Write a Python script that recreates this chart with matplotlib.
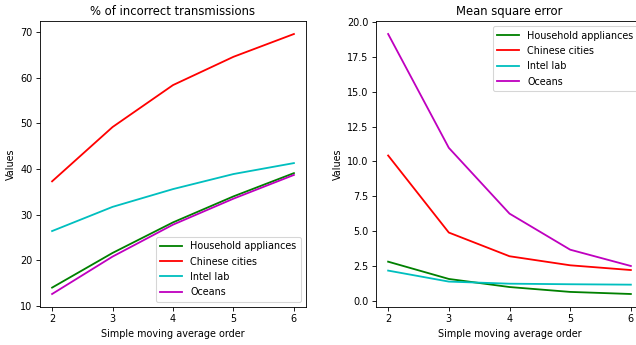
import matplotlib
matplotlib.use("Agg")
import matplotlib.pyplot as plt

# x axis: simple moving average order
orders = [2, 3, 4, 5, 6]
series_names = ['Household appliances', 'Chinese cities', 'Intel lab', 'Oceans']
series_colors = ['g', 'r', 'c', 'm']

# % of incorrect transmissions
pct_household = [14.0, 21.6, 28.3, 34.0, 39.1]
pct_chinese = [37.3, 49.2, 58.4, 64.6, 69.6]
pct_intel = [26.4, 31.7, 35.6, 38.9, 41.3]
pct_oceans = [12.6, 20.8, 27.8, 33.5, 38.7]

# mean square error
mse_household = [2.80, 1.56, 0.98, 0.63, 0.48]
mse_chinese = [10.42, 4.89, 3.19, 2.54, 2.20]
mse_intel = [2.16, 1.37, 1.22, 1.18, 1.15]
mse_oceans = [19.14, 10.97, 6.25, 3.66, 2.49]

# the reference text looks a bit narrow, condensed face if it is there
plt.rcParams['font.family'] = ['DejaVu Sans']
plt.rcParams['font.stretch'] = 'condensed'
plt.rcParams['lines.linewidth'] = 1.7

fig = plt.figure(figsize=(636 / 77, 345 / 77), dpi=77)

# left panel
ax1 = fig.add_axes([40 / 636, 38 / 345, 266 / 636, 286 / 345])
for name, vals, col in zip(series_names, [pct_household, pct_chinese, pct_intel, pct_oceans], series_colors):
    ax1.plot(orders, vals, color=col, label=name)
ax1.set_title('% of incorrect transmissions')
ax1.set_xlabel('Simple moving average order')
ax1.set_ylabel('Values')
ax1.set_xticks(orders)
ax1.legend(loc='lower right')

# right panel (runs off the right edge like in the original)
ax2 = fig.add_axes([376 / 636, 38 / 345, 267 / 636, 286 / 345])
for name, vals, col in zip(series_names, [mse_household, mse_chinese, mse_intel, mse_oceans], series_colors):
    ax2.plot(orders, vals, color=col, label=name)
ax2.set_title('Mean square error')
ax2.set_xlabel('Simple moving average order')
ax2.set_ylabel('Values')
ax2.set_xticks(orders)
ax2.legend(loc='upper right')

fig.savefig('out.png', dpi=77)
